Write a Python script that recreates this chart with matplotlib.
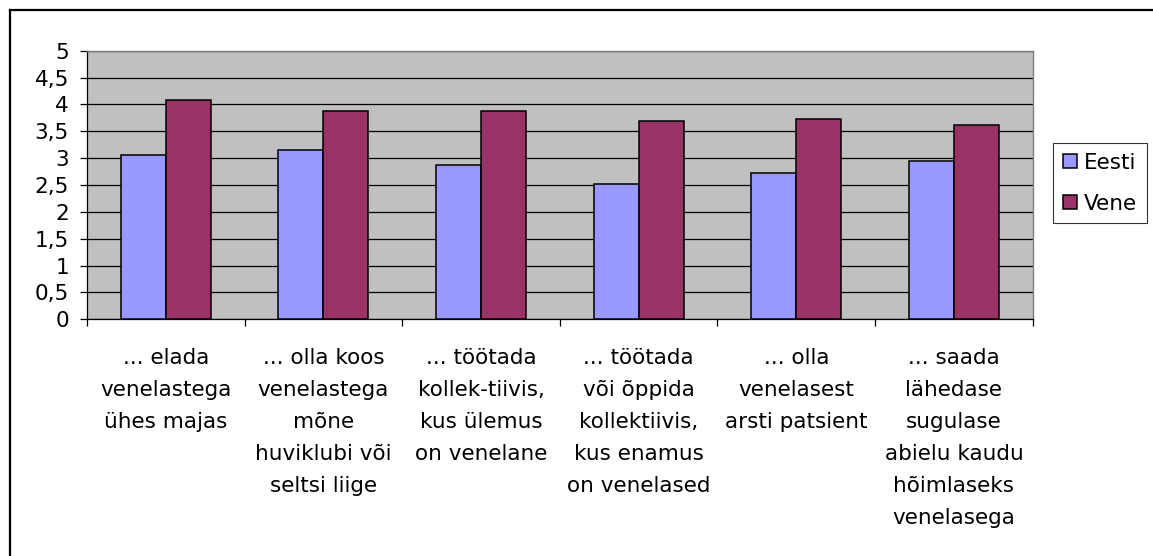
import matplotlib
matplotlib.use("Agg")
import matplotlib.pyplot as plt
from matplotlib.lines import Line2D
import numpy as np

categories = [
    "... elada\nvenelastega\nühes majas",
    "... olla koos\nvenelastega\nmõne\nhuviklubi või\nseltsi liige",
    "... töötada\nkollek-tiivis,\nkus ülemus\non venelane",
    "... töötada\nvõi õppida\nkollektiivis,\nkus enamus\non venelased",
    "... olla\nvenelasest\narsti patsient",
    "... saada\nlähedase\nsugulase\nabielu kaudu\nhõimlaseks\nvenelasega",
]
eesti = [3.05, 3.16, 2.87, 2.51, 2.73, 2.95]
vene = [4.08, 3.87, 3.87, 3.69, 3.73, 3.62]
series_names = ["Eesti", "Vene"]
yticks = [0, 0.5, 1, 1.5, 2, 2.5, 3, 3.5, 4, 4.5, 5]
ytick_labels = ["0", "0,5", "1", "1,5", "2", "2,5", "3", "3,5", "4", "4,5", "5"]

plt.rcParams['font.family'] = ['DejaVu Sans']
FS = 15.5

W, H = 1153, 556
fig = plt.figure(figsize=(W / 100, H / 100), dpi=100)
ax = fig.add_axes([87 / W, 1 - 319.3 / H, (1032.7 - 87) / W, (319.3 - 50.7) / H])

n = len(categories)
x = np.arange(n) + 0.5
bw = 1 / 3.5
ax.set_facecolor("#C0C0C0")
ax.bar(x - bw / 2, eesti, bw, color="#9999FF", edgecolor="black", linewidth=1.1,
       label=series_names[0], zorder=3)
ax.bar(x + bw / 2, vene, bw, color="#993366", edgecolor="black", linewidth=1.1,
       label=series_names[1], zorder=3)

ax.set_xlim(0, n)
ax.set_ylim(0, 5)
ax.set_yticks(yticks)
ax.set_yticklabels(ytick_labels, fontsize=FS)
ax.yaxis.grid(True, color="black", linewidth=0.9, zorder=1)
ax.set_axisbelow(True)

ax.set_xticks(x)
ax.set_xticklabels(categories, fontsize=FS, linespacing=1.74, va="top")
ax.set_xticks(np.arange(n + 1), minor=True)
ax.tick_params(axis="x", which="major", length=0, pad=21)
ax.tick_params(axis="x", which="minor", length=5, width=0.9, color="black", direction="out")
ax.tick_params(axis="y", length=5, width=0.9, color="black", direction="out", pad=8)

for s in ["left", "bottom"]:
    ax.spines[s].set_color("black")
    ax.spines[s].set_linewidth(0.9)
for s in ["top", "right"]:
    ax.spines[s].set_color("#808080")
    ax.spines[s].set_linewidth(1.0)

leg = ax.legend(loc="upper left", bbox_to_anchor=(1053 / W, 1 - 143 / H),
                bbox_transform=fig.transFigure, fontsize=FS, frameon=True,
                fancybox=False, edgecolor="black", handlelength=0.65, handleheight=0.65,
                handletextpad=0.35, borderpad=0.45, labelspacing=0.97, borderaxespad=0)
leg.get_frame().set_linewidth(0.8)

# outer chart border (left and top visible)
fig.add_artist(Line2D([10 / W, 10 / W], [0, 1 - 10 / H], transform=fig.transFigure,
                      color="black", linewidth=1.6))
fig.add_artist(Line2D([10 / W, 1], [1 - 10 / H, 1 - 10 / H], transform=fig.transFigure,
                      color="black", linewidth=1.6))

fig.savefig("out.png", dpi=100)
